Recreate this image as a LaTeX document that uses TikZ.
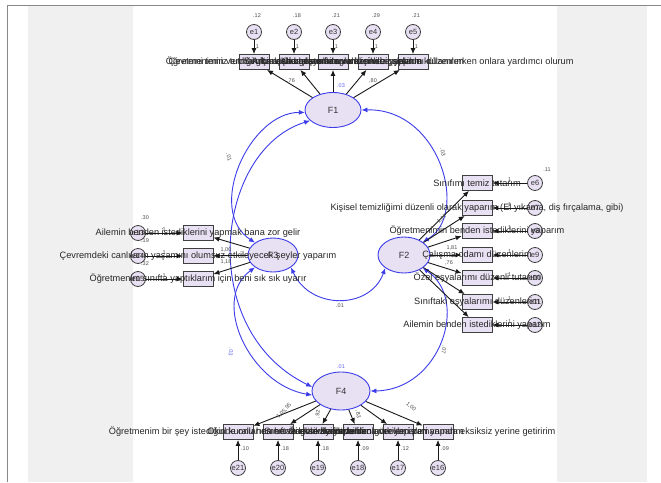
\documentclass[tikz,border=0pt]{standalone}
\usepackage{fontspec}
\setmainfont{Liberation Sans}
\usetikzlibrary{shapes.geometric,arrows.meta}
\definecolor{lav}{RGB}{232,224,243}
\definecolor{covblue}{RGB}{60,60,235}
\definecolor{framegray}{RGB}{136,136,136}
\definecolor{bggray}{RGB}{240,240,240}
\tikzset{
  latent/.style={ellipse,draw=covblue,fill=lav,line width=0.9pt,minimum width=56pt,minimum height=35pt,inner sep=0pt,font=\fontsize{9}{10}\selectfont,text=black!80},
  obs/.style={draw=black!75,fill=lav,line width=0.8pt,minimum width=30pt,minimum height=15pt,inner sep=0pt},
  err/.style={circle,draw=black!75,fill=lav,line width=0.8pt,minimum size=15pt,inner sep=0pt,font=\fontsize{7.5}{8}\selectfont,text=black!80},
  item/.style={font=\fontsize{9.2}{10}\selectfont,text=black!85,inner sep=0pt},
  load/.style={-{Latex[length=6pt,width=5pt]},black!90,line width=0.9pt},
  cov/.style={{Latex[length=6pt,width=5pt]}-{Latex[length=6pt,width=5pt]},covblue,line width=0.9pt},
  num/.style={font=\fontsize{5.5}{6}\selectfont,text=black!70,inner sep=0.5pt},
  bnum/.style={num,text=covblue!80}
}
\begin{document}
\begin{tikzpicture}[x=1pt,y=-1pt]
  \useasboundingbox (0,0) rectangle (661,482);
  \fill[bggray] (28,6) rectangle (647,482);
  \fill[white] (133,6) rectangle (557,482);
  \draw[framegray,line width=1pt] (7,482) -- (7,5) -- (661,5);

  % factors
  \node[latent] (F1) at (333,110) {F1};
  \node[latent,minimum width=52pt,minimum height=36pt] (F2) at (404,255) {F2};
  \node[latent,minimum width=50pt,minimum height=34pt] (F3) at (273,255) {F3};
  \node[latent,minimum width=58pt,minimum height=38pt] (F4) at (341,391) {F4};

  % covariances
  \draw[cov] (F1.east) .. controls (440,108) and (470,215) .. (F2.north east);
  \draw[cov] (F2.south east) .. controls (470,300) and (440,390) .. (F4.east);
  \draw[cov] (F3.south east) .. controls (310,310) and (370,310) .. (F2.south west);
  \draw[cov] (F1.185) .. controls (250,112) and (205,210) .. (F3.north west);
  \draw[cov] (F1.205) .. controls (215,150) and (195,330) .. (F4.172);
  \draw[cov] (F3.south west) .. controls (210,300) and (250,385) .. (F4.188);
  \node[num,rotate=-75] (c13) at (229,157) {.01};
  \node[num,rotate=-80] (c12) at (443,152) {.03};
  \node[num,rotate=-100] (c24) at (444,350) {.07};
  \node[num] (c32) at (340,306) {.01};
  \node[bnum,rotate=-100] (c14) at (231,352) {.03};
  \node[bnum] (v4) at (341,367) {.01};
  \node[bnum] (v1) at (341,86) {.03};

  % F1 items
  \foreach \i/\x/\v in {1/254/.12,2/294/.18,3/333/.21,4/373/.29,5/413/.21} {
    \node[err] (e\i) at (\x,32) {e\i};
    \node[num] (ve\i) at (\x+3,16) {\v};
    \node[obs] (b\i) at (\x,62) {};
  }
  \foreach \i/\x/\t in {1/254/{Çevremi temiz tutmak için çaba gösteririm},
    2/294/{Öğretmenimin verdiği görevleri zamanında ve eksiksiz yaparım},
    3/333/{Sınıfta arkadaşlarımla uyum içinde çalışırım},
    4/373/{Okul eşyalarımı düzenli bir şekilde kullanırım},
    5/413/{Arkadaşlarım sınıfı toplarken ve eşyalarını düzenlerken onlara yardımcı olurum}}
    \node[item] (t\i) at (\x,62) {\t};
  \foreach \i in {1,...,5} {
    \draw[load] (e\i) -- (b\i) node[num,midway,right=1pt] {1};
    \draw[load] (F1) -- (b\i);
  }
  \node[num] (l1) at (291,81) {,76};
  \node[num] (l5) at (373,81) {,80};

  % F2 items
  \foreach \i/\y/\v in {6/183/.11,7/208/.10,8/231/.09,9/255/.12,10/278/.10,11/302/.08,12/325/.09} {
    \node[err] (e\i) at (535,\y) {e\i};
    \node[obs] (b\i) at (477,\y) {};
  }
  \node[num] (ve6) at (547,170) {.11};
  \foreach \i/\y/\t in {6/183/{Sınıfımı temiz tutarım},
    7/208/{Kişisel temizliğimi düzenli olarak yaparım (El yıkama, diş fırçalama, gibi)},
    8/231/{Öğretmenimin benden istediklerini yaparım},
    9/255/{Çalışma odamı düzenlerim},
    10/278/{Özel eşyalarımı düzenli tutarım},
    11/302/{Sınıftaki eşyalarımı düzenlerim},
    12/325/{Ailemin benden istediklerini yaparım}}
    \node[item] (t\i) at (477,\y) {\t};
  \foreach \i in {6,...,12} {
    \draw[load] (e\i) -- (b\i) node[num,midway,above=0.5pt] {1};
    \draw[load] (F2) -- (b\i);
  }
  \node[num] (l9) at (452,248) {1,81};
  \node[num] (l10) at (449,263) {,76};
  \node[num,rotate=40] (l7) at (442,219) {1,17};

  % F3 items
  \foreach \i/\y/\v in {13/233/.30,14/256/.19,15/279/.32} {
    \node[err] (e\i) at (138,\y) {e\i};
    \node[num] (ve\i) at (145,\y-15) {\v};
    \node[obs] (b\i) at (198,\y) {};
  }
  \foreach \i/\y/\t in {13/233/{Ailemin benden istediklerini yapmak bana zor gelir},
    14/256/{Çevremdeki canlıların yaşamını olumsuz etkileyecek şeyler yaparım},
    15/279/{Öğretmenim sınıfta yaptıklarım için beni sık sık uyarır}}
    \node[item] (t\i) at (198,\y) {\t};
  \foreach \i in {13,14,15} {
    \draw[load] (e\i) -- (b\i) node[num,midway,above=0.5pt] {1};
    \draw[load] (F3) -- (b\i);
  }
  \node[num] (l14) at (226,250) {1,00};
  \node[num] (l15) at (226,262) {1,18};

  % F4 items
  \foreach \i/\x/\v in {21/238/.10,20/278/.18,19/318/.18,18/358/.09,17/398/.12,16/438/.09} {
    \node[err] (e\i) at (\x,468) {e\i};
    \node[num] (ve\i) at (\x+7,449) {\v};
    \node[obs] (b\i) at (\x,432) {};
  }
  \foreach \i/\x/\t in {21/238/{Öğretmenim bir şey istediğinde onu hemen ve eksiksiz yaparım},
    20/278/{Okul kurallarına her zaman uyarım},
    19/318/{Sınıftaki görevlerimi bilirim},
    18/358/{Ödevlerimi düzenli olarak yaparım},
    17/398/{Evde bana verilen işleri yaparım},
    16/438/{Bana verilen görevleri zamanında eksiksiz yerine getiririm}}
    \node[item] (t\i) at (\x,432) {\t};
  \foreach \i in {16,...,21} {
    \draw[load] (e\i) -- (b\i);
    \draw[load] (F4) -- (b\i);
  }
  \node[num,rotate=45] (l21) at (284,411) {1,05,95};
  \node[num,rotate=80] (l19) at (318,414) {,92};
  \node[num,rotate=-80] (l18) at (358,414) {,83};
  \node[num,rotate=-40] (l16) at (411,407) {1,00};
\end{tikzpicture}
\end{document}
